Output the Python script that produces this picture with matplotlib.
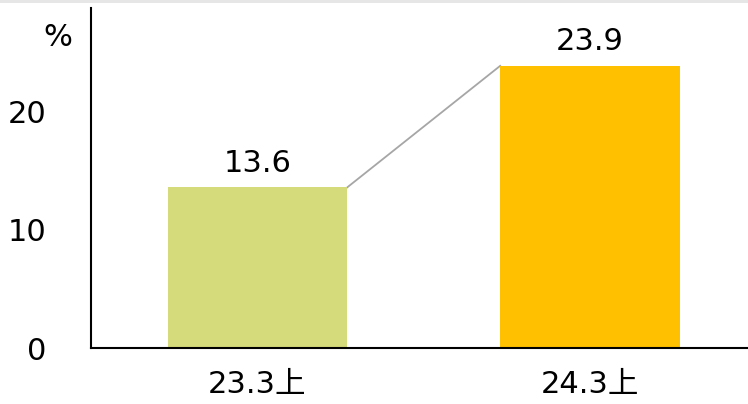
import matplotlib.pyplot as plt
from matplotlib.patches import Rectangle

plt.rcParams['font.family'] = ['DejaVu Sans', 'Noto Sans CJK JP']

# data
categories = ['23.3上', '24.3上']
values = [13.6, 23.9]
bar_colors = ['#D5DA7B', '#FFC000']
y_ticks = [0, 10, 20]

fs = 22

fig = plt.figure(figsize=(7.48, 4.04), dpi=100)
# thin grey band along the top edge
fig.patches.append(Rectangle((0, 1 - 3 / 404), 1, 3 / 404, transform=fig.transFigure,
                             facecolor='#E6E6E6', edgecolor='none'))
ax = fig.add_axes([91 / 748, 56 / 404, 1 - 91 / 748, 340 / 404])

x = list(range(len(categories)))
w = 0.54
ax.bar(x, values, width=w, color=bar_colors, zorder=2)

# connector between bar tops
ax.plot([x[0] + w / 2, x[1] - w / 2], values, color='#A6A6A6', lw=1.3, zorder=1)

for xi, v in zip(x, values):
    ax.annotate(f'{v:.1f}', (xi, v), xytext=(0, 7), textcoords='offset points',
                ha='center', va='bottom', fontsize=fs)

ax.set_xlim(-0.5, 1.475)
ax.set_ylim(0, 28.8)
ax.set_xticks(x)
ax.set_xticklabels(categories, fontsize=fs)
ax.set_yticks(y_ticks)
ax.set_yticklabels([str(t) for t in y_ticks], fontsize=fs)
ax.tick_params(length=0)
ax.tick_params(axis='y', pad=32)
ax.tick_params(axis='x', pad=16)

for s in ['top', 'right']:
    ax.spines[s].set_visible(False)
ax.spines['left'].set_linewidth(1.5)
ax.spines['bottom'].set_linewidth(1.5)

ax.text(-19 / 657, 26.3, '%', transform=ax.get_yaxis_transform(), ha='right', va='center', fontsize=fs)

fig.savefig('out.png', dpi=100)
